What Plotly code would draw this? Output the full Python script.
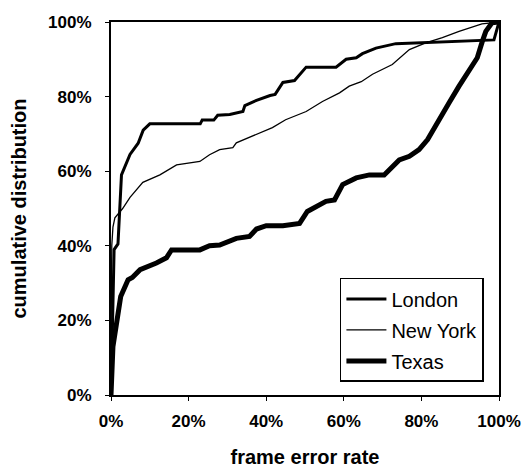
import plotly.graph_objects as go

# Frame error rate (%) and cumulative distribution (%) per site
london_x = [0, 0.8, 1.8, 2.7, 4.9, 7.0, 8.3, 10, 23, 23.5, 26.5, 27.5, 30.6, 34, 34.5, 37.5, 41, 42.3, 44.3,
            47.3, 50.3, 58, 60.6, 63.2, 64.8, 68.3, 73.4, 82, 98.7, 100]
london_y = [0, 39, 40.5, 59, 64.5, 67.5, 71, 72.7, 72.7, 73.7, 73.7, 75, 75.2, 76, 77.6, 79, 80.3, 80.6, 83.8,
            84.3, 87.9, 87.9, 90, 90.4, 91.5, 93, 94.2, 94.6, 95.2, 100]

newyork_x = [0, 0.2, 0.5, 1.0, 3.0, 4.9, 8.2, 12.6, 16.9, 22.9, 25.4, 28, 31.4, 32.3, 41.6, 45, 50.3, 54.5,
             58.9, 61.4, 64.5, 67.4, 72.5, 76.9, 81.1, 85.4, 89.7, 95.6, 100]
newyork_y = [13, 40, 45, 47.5, 50, 53, 57, 59, 61.7, 62.6, 64.4, 65.8, 66.3, 67.6, 71.7, 73.8, 76, 78.7,
             81, 82.8, 84, 86, 88.6, 92.6, 94.4, 95.8, 97.5, 99.5, 100]

texas_x = [0, 0.5, 2.5, 4.4, 5.5, 7.5, 11.7, 14.3, 15.6, 22.9, 25.4, 28, 32.3, 35.7, 37.5, 40, 44.3, 48.6,
           50.6, 55.4, 57.6, 59.7, 63.2, 66.6, 70.4, 74.3, 76.9, 79.4, 81.6, 83.7, 87.1, 89.7, 92.3, 94.4,
           95.7, 96.6, 98.2, 100]
texas_y = [0, 13, 26.4, 30.9, 31.5, 33.6, 35.4, 36.8, 38.9, 38.9, 40, 40.2, 42, 42.5, 44.5, 45.4, 45.4, 46,
           49.2, 51.9, 52.3, 56.4, 58.2, 59, 59, 63, 64, 65.8, 68.5, 72.5, 78.3, 82.8, 86.8, 90.4,
           94.8, 97.5, 99.8, 100]

tick_vals = [0, 20, 40, 60, 80, 100]
tick_text = ["0%", "20%", "40%", "60%", "80%", "100%"]

FONT = "Liberation Sans, Arial, sans-serif"

fig = go.Figure()
fig.add_trace(go.Scatter(x=london_x, y=london_y, mode="lines", name="London",
                         line=dict(color="black", width=3), legendgroup="a"))
fig.add_trace(go.Scatter(x=newyork_x, y=newyork_y, mode="lines", name="New York",
                         line=dict(color="black", width=1.3), legendgroup="b"))
fig.add_trace(go.Scatter(x=texas_x, y=texas_y, mode="lines", name="Texas",
                         line=dict(color="black", width=5), legendgroup="c"))

fig.update_layout(
    width=525, height=468,
    margin=dict(l=111, r=26, t=22, b=73, autoexpand=False),
    paper_bgcolor="white", plot_bgcolor="white",
    font=dict(family=FONT, color="black"),
    showlegend=True,
    legend=dict(x=0.59, y=0.314, xanchor="left", yanchor="top",
                bgcolor="white", bordercolor="black", borderwidth=1.5,
                font=dict(size=20, family=FONT, color="black"),
                tracegroupgap=2, itemwidth=40),
)

fig.update_xaxes(range=[0, 100], tickvals=tick_vals, ticktext=tick_text, automargin=False,
                 showgrid=False, zeroline=False, showline=True, linecolor="black",
                 linewidth=2, mirror=True, ticks="outside", ticklen=4, tickcolor="black",
                 tickfont=dict(size=17, family=FONT, weight="bold"),
                 ticklabelstandoff=6,
                 title=dict(text="frame error rate", standoff=26,
                            font=dict(size=20, family=FONT, weight="bold")))
fig.update_yaxes(range=[0, 100], tickvals=tick_vals, ticktext=tick_text, automargin=False,
                 showgrid=False, zeroline=False, showline=True, linecolor="black",
                 linewidth=2, mirror=True, ticks="outside", ticklen=4, tickcolor="black",
                 tickfont=dict(size=17, family=FONT, weight="bold"),
                 ticklabelstandoff=10,
                 title=dict(text="cumulative distribution", standoff=16,
                            font=dict(size=20, family=FONT, weight="bold")))

fig.write_html("out.html")
